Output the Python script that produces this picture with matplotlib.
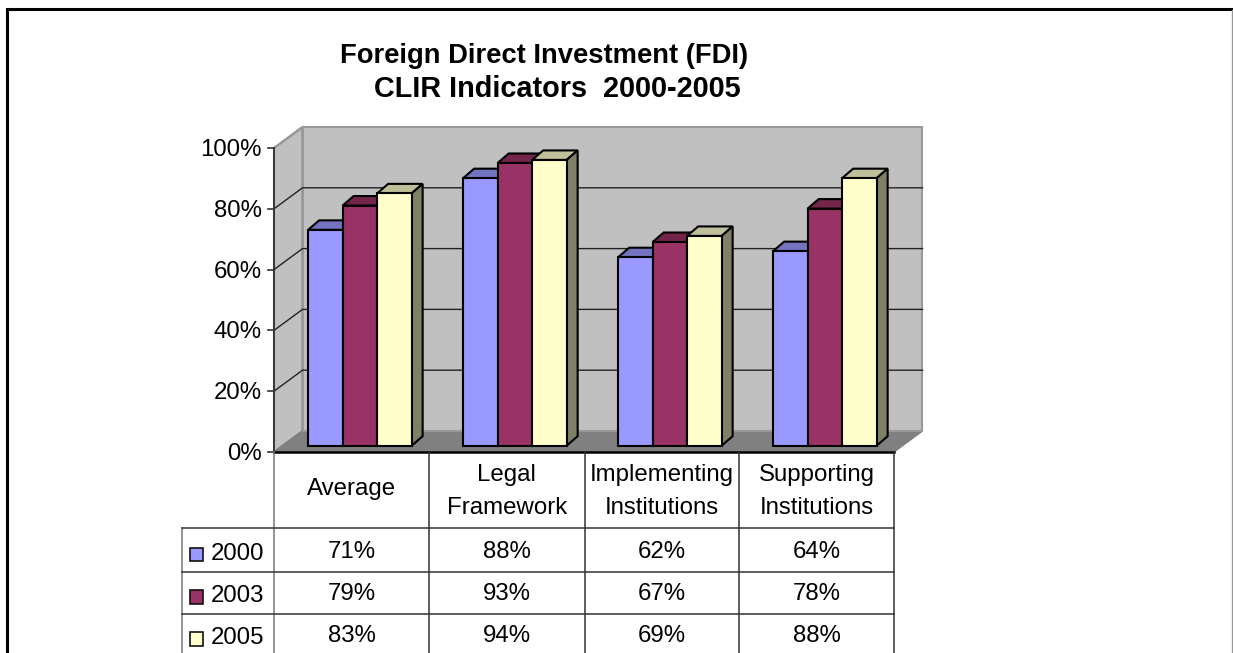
import matplotlib
matplotlib.use('Agg')
import matplotlib.pyplot as plt
from matplotlib.patches import Polygon, Rectangle

plt.rcParams['font.family'] = ['Liberation Sans', 'DejaVu Sans']

categories = ['Average', 'Legal\nFramework', 'Implementing\nInstitutions', 'Supporting\nInstitutions']
years = ['2000', '2003', '2005']
values_2000 = [71, 88, 62, 64]
values_2003 = [79, 93, 67, 78]
values_2005 = [83, 94, 69, 88]
yticks = [0, 20, 40, 60, 80, 100]

face_colors = ['#9999FF', '#993366', '#FFFFCC']
top_colors = ['#7373BF', '#732649', '#BFBF99']
side_colors = ['#737399', '#73264C', '#808066']
ink = '#000000'
W, H = 1233, 653
FS = 17.3

fig = plt.figure(figsize=(W / 100, H / 100), dpi=100)

# overlay in pixels for frame, table and text
pix = fig.add_axes([0, 0, 1, 1], zorder=3)
pix.set_xlim(0, W)
pix.set_ylim(H, 0)
pix.axis('off')
pix.patch.set_alpha(0)

# plot axes: 1 unit in x = one category, y in percent
ax = fig.add_axes([274 / W, (H - 452) / H, 620 / W, 304 / H], zorder=2)
ax.set_xlim(0, 4)
ax.set_ylim(0, 100)
ax.axis('off')

px_x = 1 / 155.0
px_y = 1 / 3.04
wall_dx = 28.5 * px_x
wall_dy = 21 * px_y
bar_dx = 11 * px_x
bar_dy = 9.5 * px_y
bar_w = 34.5 * px_x
shift_x = 8.4 * px_x
shift_y = 6.3 * px_y

# walls and floor
ax.add_patch(Polygon([(0, 0), (wall_dx, wall_dy), (4 + wall_dx, wall_dy), (4, 0)],
                     fc='#808080', ec='#808080', lw=1, clip_on=False, zorder=1))
ax.add_patch(Polygon([(0, 0), (wall_dx, wall_dy), (wall_dx, 100 + wall_dy), (0, 100)],
                     fc='#C0C0C0', ec='#808080', lw=1.5, clip_on=False, zorder=1))
ax.add_patch(Rectangle((wall_dx, wall_dy), 4, 100, fc='#C0C0C0', ec='#999999', lw=1.5,
                       clip_on=False, zorder=1))

# gridlines
for t in yticks[1:-1]:
    ax.plot([0, wall_dx, 4 + wall_dx], [t, t + wall_dy, t + wall_dy], color='#222222', lw=1,
            clip_on=False, zorder=2, solid_joinstyle='miter')
ax.plot([0, wall_dx], [100, 100 + wall_dy], color='#999999', lw=1.2, clip_on=False, zorder=2)

# bars
series = [values_2000, values_2003, values_2005]
for i, vals in enumerate(series):
    xs = [c + 0.5 + shift_x + (i - 1) * bar_w for c in range(len(categories))]
    ax.bar(xs, vals, width=bar_w, bottom=shift_y, color=face_colors[i], edgecolor=ink, lw=1.5,
           clip_on=False, zorder=5 + i)
    for x, v in zip(xs, vals):
        l, r = x - bar_w / 2, x + bar_w / 2
        top = v + shift_y
        ax.add_patch(Polygon([(l, top), (l + bar_dx, top + bar_dy), (r + bar_dx, top + bar_dy), (r, top)],
                             fc=top_colors[i], ec=ink, lw=1.5, clip_on=False, zorder=4 + i,
                             joinstyle='miter'))
        ax.add_patch(Polygon([(r, shift_y), (r + bar_dx, shift_y + bar_dy), (r + bar_dx, top + bar_dy), (r, top)],
                             fc=side_colors[i], ec=ink, lw=1.5, clip_on=False, zorder=4 + i,
                             joinstyle='miter'))

# axis line and ticks
ax.plot([0, 0], [0, 100], color='#333333', lw=1.3, clip_on=False, zorder=3)
ax.plot([0, 4], [0, 0], color='#000000', lw=1.8, clip_on=False, zorder=3)
for t in yticks:
    ax.plot([-6 * px_x, 0], [t, t], color='#333333', lw=1.2, clip_on=False, zorder=3)
    ax.text(-12 * px_x, t - 2 * px_y, f'{t}%', ha='right', va='center', fontsize=FS, color='black', clip_on=False)

# table
col_x = [274, 429, 584.5, 739, 894]
row_y = [452, 528, 572, 614, 653]
line = '#333333'
for x in col_x:
    pix.plot([x, x], [452, H], color=line if x != 274 else '#777777', lw=1.1)
pix.plot([182, 182], [528, H], color='#777777', lw=1.1)
for y in row_y[1:-1]:
    pix.plot([182, 894], [y, y], color=line, lw=1.1)

for c, name in enumerate(categories):
    cx = (col_x[c] + col_x[c + 1]) / 2
    parts = name.split('\n')
    if len(parts) == 1:
        pix.text(cx, 489, parts[0], ha='center', va='center', fontsize=FS)
    else:
        pix.text(cx, 474.5, parts[0], ha='center', va='center', fontsize=FS)
        pix.text(cx, 508, parts[1], ha='center', va='center', fontsize=FS)

row_text_y = [552.5, 594.5, 636]
key_y = [554, 596.5, 638.5]
for r, vals in enumerate(series):
    for c, v in enumerate(vals):
        cx = (col_x[c] + col_x[c + 1]) / 2
        pix.text(cx, row_text_y[r], f'{v}%', ha='center', va='center', fontsize=FS)
    pix.add_patch(Rectangle((189.5, key_y[r] - 6.5), 13.5, 13.5, fc=face_colors[r], ec='#111111', lw=1.2))
    pix.text(211, row_text_y[r] + 1.5, years[r], ha='left', va='center', fontsize=FS)

# title
pix.text(544.5, 56, 'Foreign Direct Investment (FDI)', ha='center', va='center',
         fontsize=19.7, fontweight='bold')
pix.text(557.5, 89, 'CLIR Indicators  2000-2005', ha='center', va='center',
         fontsize=20.8, fontweight='bold')

# frame, cut off at the bottom
pix.plot([6.5, 6.5, W], [H, 9, 9], color='black', lw=2.2, clip_on=False,
         solid_joinstyle='miter')
pix.plot([1232, 1232], [10, H], color='#999999', lw=1, clip_on=False)

fig.savefig('out.png', dpi=100)
